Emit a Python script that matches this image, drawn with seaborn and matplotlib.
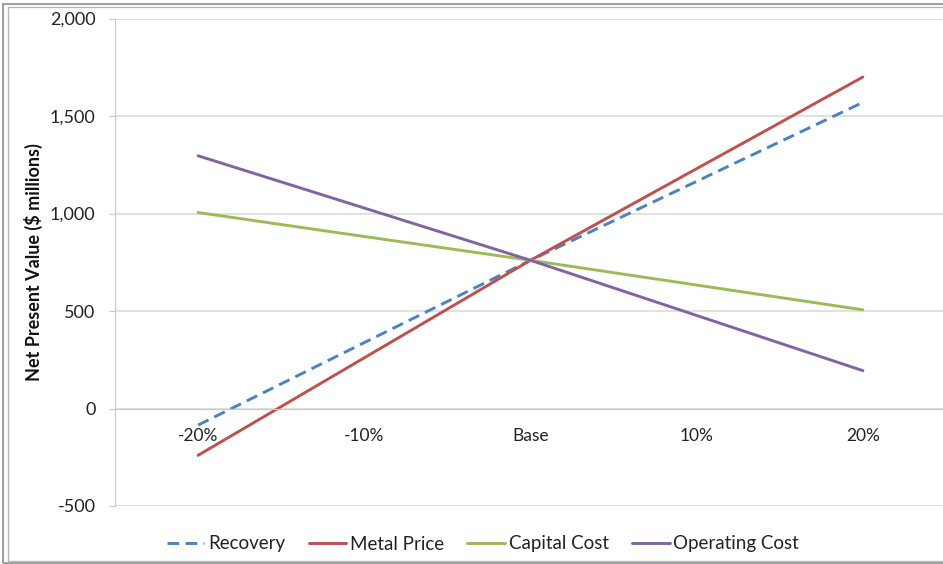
"""NPV sensitivity chart (spider plot) recreated with seaborn."""
import matplotlib

matplotlib.use("Agg")
import matplotlib.pyplot as plt
import matplotlib.ticker as mticker
from matplotlib.patches import Rectangle
import pandas as pd
import seaborn as sns

# --- data ------------------------------------------------------------------
CATEGORIES = ["-20%", "-10%", "Base", "10%", "20%"]
RECOVERY = [-85, 338, 760, 1165, 1570]
METAL_PRICE = [-240, 260, 760, 1230, 1700]
CAPITAL_COST = [1005, 882, 760, 633, 506]
OPERATING_COST = [1296, 1028, 760, 477, 194]

SERIES = {
    "Recovery": RECOVERY,
    "Metal Price": METAL_PRICE,
    "Capital Cost": CAPITAL_COST,
    "Operating Cost": OPERATING_COST,
}
COLORS = {
    "Recovery": "#4F81BD",
    "Metal Price": "#C0504D",
    "Capital Cost": "#9BBB59",
    "Operating Cost": "#8064A2",
}
DASHES = {
    "Recovery": (4.0, 2.2),
    "Metal Price": "",
    "Capital Cost": "",
    "Operating Cost": "",
}

W, H = 943, 564


def main() -> None:
    rows = []
    for name, vals in SERIES.items():
        for cat, v in zip(CATEGORIES, vals):
            rows.append({"scenario": cat, "npv": v, "series": name})
    df = pd.DataFrame(rows)

    sns.set_style("white")
    plt.rcParams["font.family"] = ["Lato", "DejaVu Sans"]

    fig = plt.figure(figsize=(W / 100, H / 100), dpi=100)
    ax = fig.add_axes([115 / W, 1 - 506 / H, (946 - 115) / W, (506 - 18.5) / H])

    sns.lineplot(
        data=df, x="scenario", y="npv", hue="series", style="series",
        palette=COLORS, dashes=DASHES, sort=False, linewidth=2.1, ax=ax,
        legend=True,
    )

    ax.set_xlim(-0.5, 4.5)
    ax.set_ylim(-500, 2000)
    ax.yaxis.set_major_locator(mticker.MultipleLocator(500))
    ax.yaxis.set_major_formatter(mticker.FuncFormatter(lambda v, _: f"{v:,.0f}"))
    ax.grid(axis="y", color="#d9d9d9", linewidth=1.1)
    ax.set_axisbelow(True)

    for side in ("top", "right"):
        ax.spines[side].set_visible(False)
    ax.spines["left"].set_color("#c8c8c8")
    ax.spines["bottom"].set_color("#c8c8c8")
    ax.spines["bottom"].set_position(("data", 0))

    ax.set_xticks(range(len(CATEGORIES)))
    ax.set_xticklabels(CATEGORIES)
    ax.set_xticks([i - 0.5 for i in range(len(CATEGORIES) + 1)], minor=True)
    ax.tick_params(axis="x", which="major", length=0, pad=14, labelsize=12.5,
                   labelcolor="#222222")
    ax.tick_params(axis="x", which="minor", length=4, direction="out",
                   color="#c8c8c8")
    ax.tick_params(axis="y", length=4, direction="out", color="#c8c8c8",
                   left=True, pad=10, labelsize=13, labelcolor="#222222")

    ax.set_xlabel("")
    ax.set_ylabel("Net Present Value ($ millions)", fontsize=13,
                  fontweight="bold", labelpad=5, color="#111111")

    handles, labels = ax.get_legend_handles_labels()
    ax.get_legend().remove()
    fig.legend(handles, labels, loc="center", ncol=4, frameon=False,
               bbox_to_anchor=(483 / W, 1 - 544 / H), fontsize=13.5,
               handlelength=2.0, handletextpad=0.2, columnspacing=1.25,
               labelcolor="#222222")

    # double grey frame around the chart area
    fig.patches.append(Rectangle((3 / W, 1 - 563 / H), 1.0, (563 - 4) / H,
                                 transform=fig.transFigure, fill=False,
                                 edgecolor="#a0a0a0", linewidth=1.5))
    fig.patches.append(Rectangle((8 / W, 1 - 561 / H), 1.0, (561 - 7) / H,
                                 transform=fig.transFigure, fill=False,
                                 edgecolor="#b8b8b8", linewidth=1.0))

    fig.savefig("out.png", dpi=100)
    plt.close(fig)


if __name__ == "__main__":
    main()
